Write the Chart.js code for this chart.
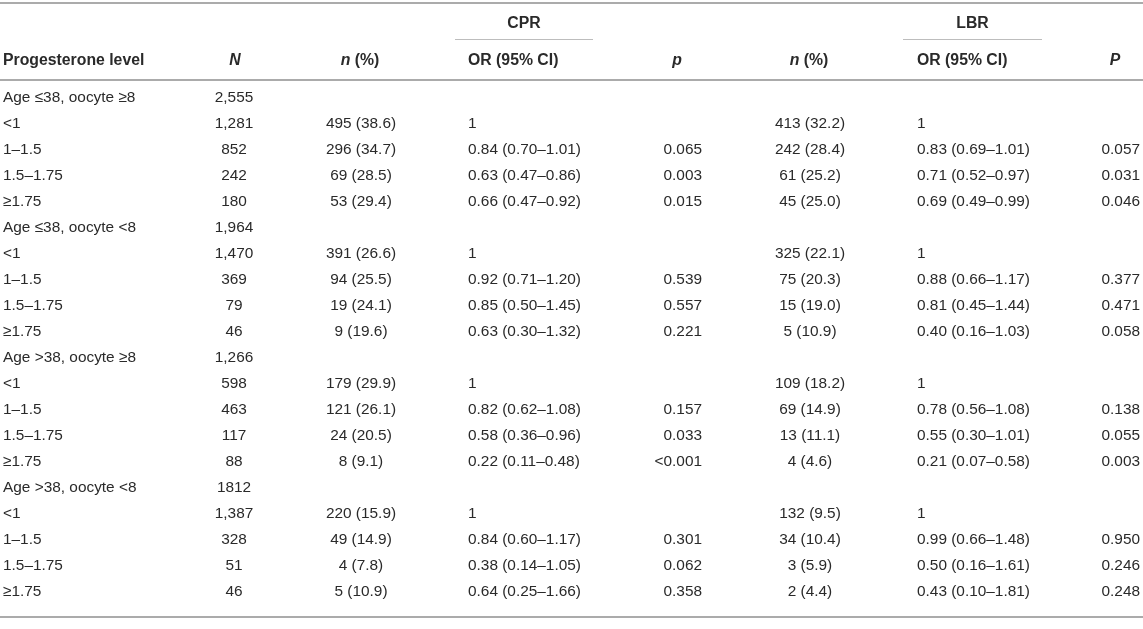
<!DOCTYPE html>
<html>
<head>
<meta charset="utf-8">
<script src="https://cdn.jsdelivr.net/npm/chart.js@4/dist/chart.umd.min.js"></script>
<style>
  html, body { margin: 0; padding: 0; background: #fff; }
  #wrap { width: 1143px; height: 629px; position: relative; }
</style>
</head>
<body>
<div id="wrap"><canvas id="table"></canvas></div>
<script>
// table contents, one array per column
const rowLabels = [
    'Age ≤38, oocyte ≥8', '<1', '1–1.5', '1.5–1.75', '≥1.75',
    'Age ≤38, oocyte <8', '<1', '1–1.5', '1.5–1.75', '≥1.75',
    'Age >38, oocyte ≥8', '<1', '1–1.5', '1.5–1.75', '≥1.75',
    'Age >38, oocyte <8', '<1', '1–1.5', '1.5–1.75', '≥1.75'
]
const totalN = [
    '2,555', '1,281', '852', '242', '180',
    '1,964', '1,470', '369', '79', '46',
    '1,266', '598', '463', '117', '88',
    '1812', '1,387', '328', '51', '46'
]
const cprN = [
    '', '495 (38.6)', '296 (34.7)', '69 (28.5)', '53 (29.4)',
    '', '391 (26.6)', '94 (25.5)', '19 (24.1)', '9 (19.6)',
    '', '179 (29.9)', '121 (26.1)', '24 (20.5)', '8 (9.1)',
    '', '220 (15.9)', '49 (14.9)', '4 (7.8)', '5 (10.9)'
]
const cprOR = [
    '', '1', '0.84 (0.70–1.01)', '0.63 (0.47–0.86)', '0.66 (0.47–0.92)',
    '', '1', '0.92 (0.71–1.20)', '0.85 (0.50–1.45)', '0.63 (0.30–1.32)',
    '', '1', '0.82 (0.62–1.08)', '0.58 (0.36–0.96)', '0.22 (0.11–0.48)',
    '', '1', '0.84 (0.60–1.17)', '0.38 (0.14–1.05)', '0.64 (0.25–1.66)'
]
const cprP = [
    '', '', '0.065', '0.003', '0.015',
    '', '', '0.539', '0.557', '0.221',
    '', '', '0.157', '0.033', '<0.001',
    '', '', '0.301', '0.062', '0.358'
]
const lbrN = [
    '', '413 (32.2)', '242 (28.4)', '61 (25.2)', '45 (25.0)',
    '', '325 (22.1)', '75 (20.3)', '15 (19.0)', '5 (10.9)',
    '', '109 (18.2)', '69 (14.9)', '13 (11.1)', '4 (4.6)',
    '', '132 (9.5)', '34 (10.4)', '3 (5.9)', '2 (4.4)'
]
const lbrOR = [
    '', '1', '0.83 (0.69–1.01)', '0.71 (0.52–0.97)', '0.69 (0.49–0.99)',
    '', '1', '0.88 (0.66–1.17)', '0.81 (0.45–1.44)', '0.40 (0.16–1.03)',
    '', '1', '0.78 (0.56–1.08)', '0.55 (0.30–1.01)', '0.21 (0.07–0.58)',
    '', '1', '0.99 (0.66–1.48)', '0.50 (0.16–1.61)', '0.43 (0.10–1.81)'
]
const lbrP = [
    '', '', '0.057', '0.031', '0.046',
    '', '', '0.377', '0.471', '0.058',
    '', '', '0.138', '0.055', '0.003',
    '', '', '0.950', '0.246', '0.248'
]
// header cells: [italic part, plain part]
const headers = [
    ['', 'Progesterone level'], ['N', ''], ['n', ' (%)'], ['', 'OR (95% CI)'],
    ['p', ''], ['n', ' (%)'], ['', 'OR (95% CI)'], ['P', '']
]
const groups = ['CPR', 'LBR']

// layout (x in page pixels, y in row units)
const FONT = '"Liberation Sans", Arial, Helvetica, sans-serif'
const BODY = '15.4px ' + FONT
const BOLD = 'bold 15.8px ' + FONT
const ITBOLD = 'italic bold 15.8px ' + FONT
const TEXT = '#2a2a2a'
const columns = [
    { values: rowLabels, x: 3, align: 'left', hx: 3 },
    { values: totalN, x: 234, align: 'center', hx: 235 },
    { values: cprN, x: 361, align: 'center', hx: 360 },
    { values: cprOR, x: 468, align: 'left', hx: 468 },
    { values: cprP, x: 702, align: 'right', hx: 677, halign: 'center' },
    { values: lbrN, x: 810, align: 'center', hx: 809 },
    { values: lbrOR, x: 917, align: 'left', hx: 917 },
    { values: lbrP, x: 1140, align: 'right', hx: 1115, halign: 'center' }
]
const groupSpans = [[455, 593], [903, 1042]]
const ROW_H = 26
const FIRST_ROW = 98
const groupRow = -2.85
const spanRow = -2.27
const headerRow = -1.42
const rules = [-3.65, -0.69, 19.98]

const cellPlugin = {
    id: 'cells',
    afterDatasetsDraw(chart) {
        const { ctx, scales: { x, y } } = chart
        ctx.save()
        ctx.textBaseline = 'middle'
        ctx.fillStyle = TEXT
        // body cells, at the positions the scales gave the points
        ctx.font = BODY
        chart.data.datasets.forEach((ds, i) => {
            const meta = chart.getDatasetMeta(i)
            ctx.textAlign = ds.align
            meta.data.forEach((pt, j) => {
                const txt = ds.values[j]
                if (txt) ctx.fillText(txt, pt.x, pt.y)
            })
        })
        // header row
        const hy = y.getPixelForValue(headerRow)
        columns.forEach((col, i) => {
            const [it, plain] = headers[i]
            ctx.font = ITBOLD
            const w1 = ctx.measureText(it).width
            ctx.font = BOLD
            const w2 = ctx.measureText(plain).width
            const al = col.halign || col.align
            let left = x.getPixelForValue(col.hx)
            if (al === 'center') left -= (w1 + w2) / 2
            else if (al === 'right') left -= w1 + w2
            ctx.textAlign = 'left'
            ctx.font = ITBOLD
            ctx.fillText(it, left, hy)
            ctx.font = BOLD
            ctx.fillText(plain, left + w1, hy)
        })
        // group headers and their underlines
        const gy = y.getPixelForValue(groupRow)
        const sy = y.getPixelForValue(spanRow)
        ctx.font = BOLD
        ctx.textAlign = 'center'
        groups.forEach((g, i) => {
            const [a, b] = groupSpans[i]
            const xa = x.getPixelForValue(a), xb = x.getPixelForValue(b)
            ctx.fillText(g, (xa + xb) / 2, gy)
            ctx.strokeStyle = '#bdbdbd'
            ctx.lineWidth = 1
            ctx.beginPath()
            ctx.moveTo(xa, Math.round(sy) + 0.5)
            ctx.lineTo(xb, Math.round(sy) + 0.5)
            ctx.stroke()
        })
        // horizontal rules
        ctx.strokeStyle = '#ababab'
        ctx.lineWidth = 2
        rules.forEach(r => {
            const ry = Math.round(y.getPixelForValue(r))
            ctx.beginPath()
            ctx.moveTo(x.left, ry)
            ctx.lineTo(x.right, ry)
            ctx.stroke()
        })
        ctx.restore()
    }
}

new Chart(document.getElementById('table'), {
    type: 'scatter',
    data: {
        datasets: columns.map(col => ({
            values: col.values,
            align: col.align,
            data: col.values.map((v, i) => ({ x: col.x, y: i })),
            pointRadius: 0,
            pointHoverRadius: 0,
            showLine: false
        }))
    },
    options: {
        animation: false,
        responsive: true,
        maintainAspectRatio: false,
        layout: { padding: 0 },
        events: [],
        scales: {
            x: { type: 'linear', min: 0, max: 1143, display: false },
            y: {
                type: 'linear',
                reverse: true,
                min: -FIRST_ROW / ROW_H,
                max: (629 - FIRST_ROW) / ROW_H,
                display: false
            }
        },
        plugins: {
            legend: { display: false },
            tooltip: { enabled: false }
        }
    },
    plugins: [cellPlugin]
})
</script>
</body>
</html>
